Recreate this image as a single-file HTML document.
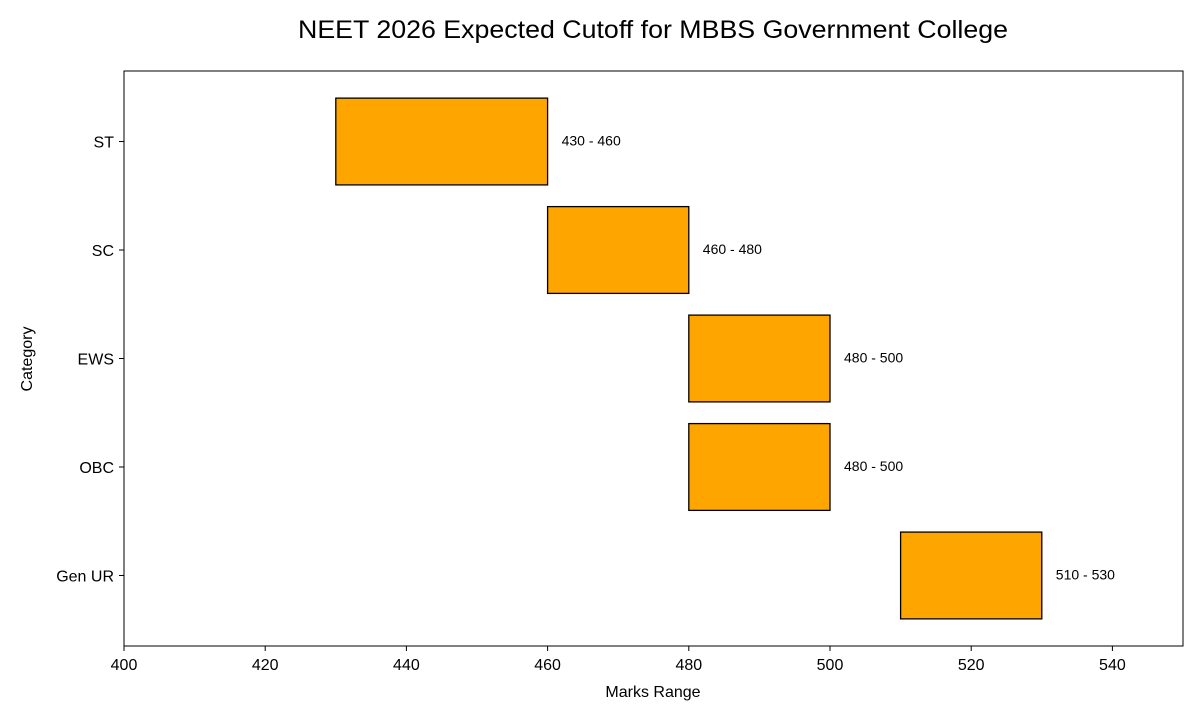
<!DOCTYPE html>
<html><head><meta charset="utf-8"><style>
body{margin:0;background:#fff;}
svg text{font-family:"Liberation Sans",sans-serif;fill:#000;}
</style></head><body>
<svg width="1200" height="720" id="c">
<text x="653" y="38" text-anchor="middle" font-size="25" textLength="710" lengthAdjust="spacingAndGlyphs">NEET 2026 Expected Cutoff for MBBS Government College</text>
<rect x="124" y="71" width="1059" height="575" fill="none" stroke="#000" stroke-width="1"/>
<text x="653" y="697" text-anchor="middle" font-size="16">Marks Range</text>
<text x="32" y="359" text-anchor="middle" font-size="16" transform="rotate(-90 32 359)">Category</text>
<g id="g"></g>
</svg>
<script>
const categories=["Gen UR","OBC","EWS","SC","ST"];
const lows=[510,480,480,460,430];
const highs=[530,500,500,480,460];
const xTicks=[400,420,440,460,480,500,520,540];
const L=124,R=1183,T=71,B=646,xmin=400,xmax=550,ymin=-0.65,ymax=4.65;
const xs=v=>L+(v-xmin)/(xmax-xmin)*(R-L);
const ys=v=>B-(v-ymin)/(ymax-ymin)*(B-T);
const g=document.getElementById('g');
const NS="http://www.w3.org/2000/svg";
function mk(t,a){const e=document.createElementNS(NS,t);for(const k in a)e.setAttribute(k,a[k]);g.appendChild(e);return e;}
xTicks.forEach(v=>{
  const l=mk('line',{x1:xs(v),x2:xs(v),y1:B,y2:B+5,stroke:'#000'});
  
  
  const t=mk('text',{x:xs(v),y:B+24,'text-anchor':'middle','font-size':16});
  t.textContent=v;
  
  
});
const bh=(B-T)/(ymax-ymin)*0.8;
categories.forEach((c,i)=>{
  const y=ys(i);
  const l=mk('line',{x1:L-5,x2:L,y1:y,y2:y,stroke:'#000'});
  
  
  const t=mk('text',{x:L-10,y:y+6,'text-anchor':'end','font-size':16});
  t.textContent=c;
  
  
  const r=mk('rect',{x:xs(lows[i]),y:y-bh/2,width:xs(highs[i])-xs(lows[i]),height:bh,fill:'#ffa500',stroke:'#000','stroke-width':1.3});
  
  
  const lb=mk('text',{x:xs(highs[i])+14,y:y+4,'font-size':14});
  lb.textContent=lows[i]+' - '+highs[i];
  
  
});
</script>
</body></html>
